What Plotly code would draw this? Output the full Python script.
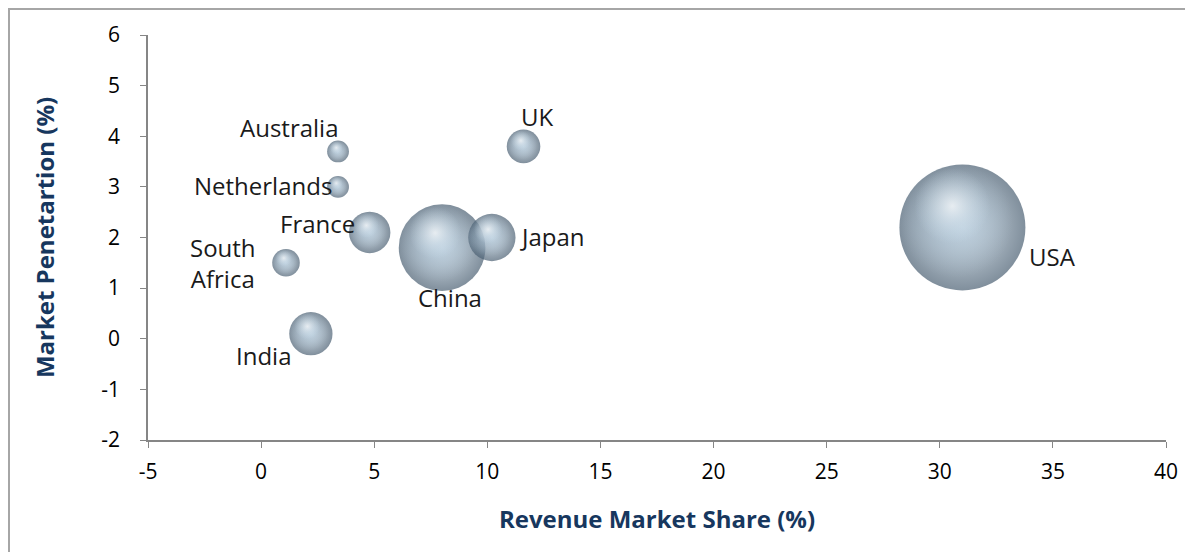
import plotly.graph_objects as go
import numpy as np

countries = ["Australia", "Netherlands", "France", "South<br>Africa", "India", "China", "Japan", "UK", "USA"]
revenue_share = [3.4, 3.4, 4.8, 1.1, 2.2, 8.0, 10.2, 11.6, 31.0]
penetration = [3.7, 3.0, 2.1, 1.5, 0.1, 1.8, 2.0, 3.8, 2.2]
bubble_size = [3.0, 3.0, 10.8, 4.8, 11.8, 47.3, 14.1, 7.1, 100.0]

x_ticks = [-5, 0, 5, 10, 15, 20, 25, 30, 35, 40]
y_ticks = [-2, -1, 0, 1, 2, 3, 4, 5, 6]

# layout constants (page body has an 8px margin)
W, H = 1185, 544
ML, MR, MT, MB = 140, 27, 27, 112
PW, PH = W - ML - MR, H - MT - MB
XR, YR = [-5, 40], [-2, 6]
MAXD = 126

sz = np.array(bubble_size)
x = np.array(revenue_share)
y = np.array(penetration)
diam = MAXD * np.sqrt(sz / sz.max())
ppx = PW / (XR[1] - XR[0])
ppy = PH / (YR[1] - YR[0])

fig = go.Figure()
# base sphere (marker.color = edge, gradient.color = centre)
fig.add_trace(go.Scatter(
    x=x, y=y, mode="markers",
    marker=dict(size=diam, sizemode="diameter", color="#4a5f72",
                gradient=dict(type="radial", color="#c6d7e4"),
                line=dict(width=0)),
    hoverinfo="skip", showlegend=False))
# body flattening
fig.add_trace(go.Scatter(
    x=x - 0.05 * diam / ppx, y=y + 0.05 * diam / ppy, mode="markers",
    marker=dict(size=diam * 0.9, sizemode="diameter", color="rgba(166,189,207,0)",
                gradient=dict(type="radial", color="rgba(168,192,211,1)"),
                line=dict(width=0)),
    hoverinfo="skip", showlegend=False))
# highlight
fig.add_trace(go.Scatter(
    x=x - 0.08 * diam / ppx, y=y + 0.17 * diam / ppy, mode="markers",
    marker=dict(size=diam * 0.6, sizemode="diameter", color="rgba(210,228,240,0)",
                gradient=dict(type="radial", color="rgba(255,255,255,1)"),
                line=dict(width=0)),
    hoverinfo="skip", showlegend=False))

# labels: (xanchor, xshift, yshift) per point, text box vertically centred
label_pos = [
    ("right", 2, 24),
    ("right", -4, 1),
    ("right", -13, 9),
    ("center", -63, 0),
    ("center", -47, -22),
    ("center", 8, -50),
    ("left", 26, 1),
    ("center", 13, 30),
    ("left", 65, -29),
]
label_font = dict(family="Open Sans, Noto Sans, sans-serif", size=24, color="#1a1a1a")
for i, c in enumerate(countries):
    xa, xs, ys = label_pos[i]
    fig.add_annotation(x=x[i], y=y[i], text=c, showarrow=False,
                       xanchor=xa, yanchor="middle", xshift=xs, yshift=ys,
                       align="center", font=label_font)

# outer chart border
fig.add_shape(type="rect", xref="paper", yref="paper",
              x0=(1 - ML) / PW, x1=(W + 5 - ML) / PW,
              y0=-(H + 5 - MT - PH) / PH, y1=(MT + PH - 1) / PH,
              line=dict(color="#a6a6a6", width=2), layer="below")

axis_font = dict(family="Open Sans, Noto Sans, sans-serif", size=21, color="#000000")
title_font = dict(family="Open Sans, Noto Sans, sans-serif", size=24, color="#17375e")

fig.update_layout(
    width=W, height=H,
    margin=dict(l=ML, r=MR, t=MT, b=MB, autoexpand=False),
    paper_bgcolor="white", plot_bgcolor="white",
    xaxis=dict(range=XR, tickvals=x_ticks, ticktext=[str(v) for v in x_ticks],
               showgrid=False, zeroline=False, showline=True, linecolor="#868686", linewidth=1.5,
               ticks="outside", ticklen=6, tickcolor="#868686", tickfont=axis_font,
               ticklabelstandoff=6, automargin=False,
               title=dict(text="<b>Revenue Market Share (%)</b>", font=title_font, standoff=27)),
    yaxis=dict(range=YR, tickvals=y_ticks, ticktext=[str(v) for v in y_ticks],
               showgrid=False, zeroline=False, showline=True, linecolor="#868686", linewidth=1.5,
               ticks="outside", ticklen=6, tickcolor="#868686", tickfont=axis_font,
               ticklabelstandoff=16, automargin=False,
               title=dict(text="<b>Market Penetartion (%)</b>", font=title_font, standoff=40)),
)

fig.write_html("out.html")
